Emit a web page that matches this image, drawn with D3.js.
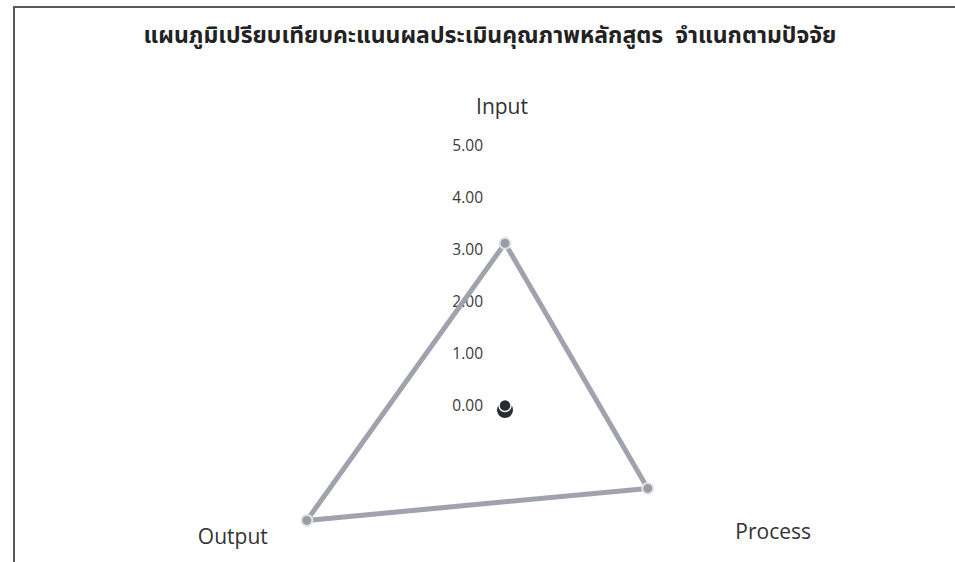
<!DOCTYPE html>
<html>
<head>
<meta charset="utf-8">
<script src="https://cdn.jsdelivr.net/npm/d3@7"></script>
<style>
  body { margin: 0; background: #fff; }
  .tick-label { font-family: 'Open Sans', sans-serif; font-size: 15.5px; fill: #3a3a3a; }
  .axis-label { font-family: 'Open Sans', sans-serif; font-size: 21px; fill: #333; }
  .title { font-family: 'Noto Sans Thai', 'Tahoma', 'Noto Sans', sans-serif; font-size: 23px; font-weight: bold; fill: #222; white-space: pre; }
</style>
</head>
<body>
<div id="chart"></div>
<script>
// chart data
const title = 'แผนภูมิเปรียบเทียบคะแนนผลประเมินคุณภาพหลักสูตร  จำแนกตามปัจจัย';
const factors = ['Input', 'Process', 'Output'];
const scores = [3.13, 3.17, 4.4];
const tickValues = [0, 1, 2, 3, 4, 5];

const width = 955;
const height = 562;
const center = { x: 505, y: 406 };

const svg = d3.select('#chart').append('svg')
  .attr('width', width)
  .attr('height', height);

// frame (top and left edges visible)
svg.append('path')
  .attr('d', `M14,${height} L14,7 L${width},7`)
  .attr('fill', 'none')
  .attr('stroke', '#555a60')
  .attr('stroke-width', 2);

svg.append('text')
  .attr('class', 'title')
  .attr('x', 490)
  .attr('y', 43)
  .attr('text-anchor', 'middle')
  .text(title);

// scales
const rScale = d3.scaleLinear().domain([0, 5]).range([0, 260]);
const angle = d3.scaleOrdinal()
  .domain(factors)
  .range([-Math.PI / 2, Math.PI / 6, Math.PI * 5 / 6]);

const point = (f, v) => [
  center.x + rScale(v) * Math.cos(angle(f)),
  center.y + rScale(v) * Math.sin(angle(f)),
];

const g = svg.append('g');

// tick labels along Input axis
g.selectAll('.tick-label')
  .data(tickValues)
  .enter()
  .append('text')
  .attr('class', 'tick-label')
  .attr('x', center.x - 22)
  .attr('y', (d) => center.y - rScale(d))
  .attr('dy', '0.35em')
  .attr('text-anchor', 'end')
  .text((d) => d3.format('.2f')(d));

// axis labels, offset from each axis end
const labelOffset = { Input: [-3, -39], Process: [43, -4], Output: [-47, 1] };
g.selectAll('.axis-label')
  .data(factors)
  .enter()
  .append('text')
  .attr('class', 'axis-label')
  .attr('x', (d) => point(d, 5)[0] + labelOffset[d][0])
  .attr('y', (d) => point(d, 5)[1] + labelOffset[d][1])
  .attr('dy', '0.35em')
  .attr('text-anchor', 'middle')
  .text((d) => d);

// series polygon
const pts = factors.map((f, i) => point(f, scores[i]));
g.append('path')
  .attr('d', d3.line()(pts) + 'Z')
  .attr('fill', 'none')
  .attr('stroke', '#a0a2ad')
  .attr('stroke-width', 5)
  .attr('stroke-linejoin', 'round');

g.selectAll('.marker')
  .data(pts)
  .enter()
  .append('circle')
  .attr('class', 'marker')
  .attr('cx', (d) => d[0])
  .attr('cy', (d) => d[1])
  .attr('r', 5.5)
  .attr('fill', '#9c9ca4')
  .attr('stroke', '#e4e4e8')
  .attr('stroke-width', 2);

// center marker (value 0)
const c0 = point('Input', 0);
g.append('circle')
  .attr('cx', c0[0])
  .attr('cy', c0[1] + 4)
  .attr('r', 8)
  .attr('fill', '#2a2c33');
g.append('circle')
  .attr('cx', c0[0])
  .attr('cy', c0[1] - 0.5)
  .attr('r', 6)
  .attr('fill', '#2a2c33')
  .attr('stroke', '#fff')
  .attr('stroke-width', 1.5);
</script>
</body>
</html>
